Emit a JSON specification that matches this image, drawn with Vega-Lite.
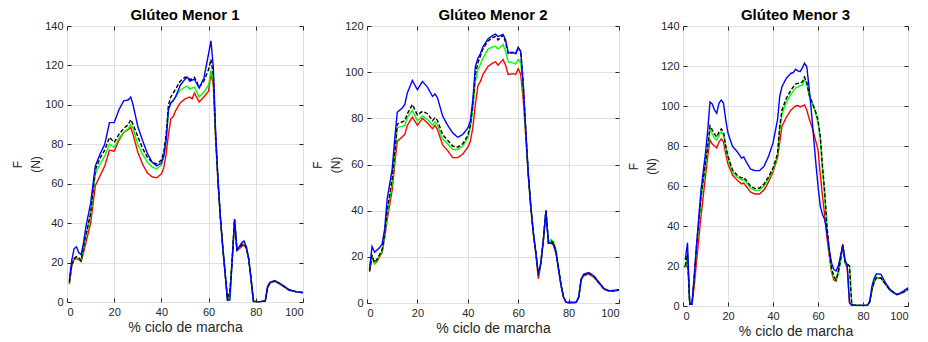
{
  "$schema": "https://vega.github.io/schema/vega-lite/v6.json",
  "background": "white",
  "padding": {"left": 11, "top": 7, "right": 5, "bottom": 5},
  "spacing": 64,
  "bounds": "flush",
  "config": {
    "font": "Liberation Sans",
    "view": {"stroke": "#555555", "strokeWidth": 1},
    "axis": {
      "domain": false,
      "grid": true,
      "gridColor": "#dfdfdf",
      "gridWidth": 1,
      "tickColor": "#262626",
      "tickSize": -4,
      "labelFont": "Liberation Sans",
      "labelFontSize": 11,
      "labelColor": "#262626",
      "labelPadding": 8,
      "titleFont": "Liberation Sans",
      "titleFontWeight": "normal",
      "titleFontSize": 14,
      "titleColor": "#262626"
    },
    "axisY": {"titleLineHeight": 18, "titleFontSize": 12, "titlePadding": 2},
    "axisX": {"titlePadding": 3},
    "title": {"fontSize": 15, "fontWeight": "bold", "color": "#000000", "offset": -3, "font": "Liberation Sans"}
  },
  "datasets": {
    "p1": [
      {"x":1,"b":11,"k":10,"g":10,"r":9},
      {"x":2,"b":21,"k":19,"g":19,"r":18},
      {"x":3,"b":27,"k":22,"g":22,"r":21.5},
      {"x":4,"b":28,"k":23,"g":22.5,"r":22},
      {"x":5,"b":25,"k":22.5,"g":22,"r":21.5},
      {"x":6,"b":24,"k":21,"g":21,"r":20.5},
      {"x":7,"b":30,"k":28,"g":27,"r":25},
      {"x":8,"b":38,"k":34,"g":33,"r":30},
      {"x":10,"b":50,"k":45,"g":44,"r":40},
      {"x":12,"b":69,"k":67,"g":65,"r":59},
      {"x":14,"b":75,"k":73,"g":70,"r":64},
      {"x":16,"b":80,"k":77,"g":74,"r":69},
      {"x":18,"b":91,"k":83.5,"g":80,"r":77},
      {"x":20,"b":91,"k":81,"g":78.5,"r":76.5},
      {"x":22,"b":97.5,"k":85,"g":83,"r":82},
      {"x":24,"b":102,"k":88,"g":86,"r":86},
      {"x":26,"b":102.5,"k":90,"g":88,"r":87.5},
      {"x":27,"b":104,"k":92.5,"g":90,"r":88.5},
      {"x":28,"b":100,"k":90,"g":88,"r":85},
      {"x":30,"b":89,"k":84,"g":80,"r":76},
      {"x":32,"b":82,"k":78,"g":75,"r":70},
      {"x":34,"b":75.5,"k":73.5,"g":71,"r":65.5},
      {"x":36,"b":71,"k":71,"g":68.5,"r":63.5},
      {"x":38,"b":69,"k":70,"g":67.5,"r":63},
      {"x":40,"b":70.5,"k":72,"g":69.5,"r":65},
      {"x":41,"b":74,"k":76,"g":74,"r":68},
      {"x":42,"b":82,"k":85,"g":82,"r":75},
      {"x":43,"b":97.5,"k":100,"g":98,"r":85},
      {"x":44,"b":101,"k":104,"g":101,"r":93},
      {"x":45,"b":102,"k":106,"g":102.5,"r":94},
      {"x":46,"b":104,"k":108,"g":104,"r":97},
      {"x":48,"b":110,"k":112,"g":107.5,"r":101},
      {"x":50,"b":113,"k":114,"g":109,"r":103},
      {"x":51,"b":114,"k":114,"g":109.5,"r":103.5},
      {"x":52,"b":112,"k":113,"g":108,"r":104},
      {"x":53,"b":112.5,"k":113,"g":108.5,"r":103},
      {"x":54,"b":113,"k":114,"g":109,"r":106},
      {"x":56,"b":108.5,"k":109,"g":104,"r":101.5},
      {"x":58,"b":113.5,"k":112,"g":106.5,"r":104},
      {"x":60,"b":126,"k":118,"g":110,"r":107},
      {"x":61,"b":132.5,"k":123,"g":117.5,"r":116},
      {"x":62,"b":119,"k":115,"g":112,"r":110},
      {"x":63,"b":85.6,"k":84,"g":83,"r":82},
      {"x":64,"b":62,"k":61,"g":61,"r":60},
      {"x":65,"b":43,"k":43,"g":43,"r":42},
      {"x":66,"b":28,"k":28,"g":28,"r":27},
      {"x":67,"b":14.7,"k":15,"g":15,"r":14},
      {"x":68,"b":1,"k":2,"g":1,"r":0.5},
      {"x":69,"b":1,"k":5,"g":4,"r":4},
      {"x":70,"b":21,"k":22,"g":22,"r":21},
      {"x":71,"b":42,"k":42,"g":42,"r":41},
      {"x":72,"b":26.5,"k":26.5,"g":26.5,"r":26},
      {"x":73,"b":28,"k":27.5,"g":27.5,"r":27},
      {"x":74,"b":30,"k":29,"g":29,"r":28},
      {"x":75,"b":31,"k":29.5,"g":29.5,"r":29},
      {"x":76,"b":28,"k":27.5,"g":27.5,"r":27},
      {"x":77,"b":22,"k":22,"g":22,"r":21.5},
      {"x":78,"b":11,"k":12,"g":12,"r":11.5},
      {"x":79,"b":0.3,"k":0.5,"g":0.5,"r":0.3},
      {"x":80,"b":0.2,"k":0.2,"g":0.2,"r":0.2},
      {"x":82,"b":0.2,"k":0.2,"g":0.2,"r":0.2},
      {"x":84,"b":0.5,"k":0.5,"g":0.5,"r":0.5},
      {"x":85,"b":8,"k":7.5,"g":7.5,"r":7},
      {"x":86,"b":10,"k":9.8,"g":9.8,"r":9.5},
      {"x":88,"b":10.8,"k":10.7,"g":10.7,"r":10.5},
      {"x":90,"b":9.6,"k":9.5,"g":9.5,"r":9.2},
      {"x":92,"b":8,"k":7.9,"g":7.9,"r":7.6},
      {"x":94,"b":6.3,"k":6.2,"g":6.2,"r":6},
      {"x":96,"b":5.6,"k":5.5,"g":5.5,"r":5.4},
      {"x":98,"b":5,"k":5,"g":5,"r":4.9},
      {"x":100,"b":4.9,"k":4.8,"g":4.8,"r":4.7}
    ],
    "p2": [
      {"x":1,"b":14.7,"k":14,"g":14,"r":13.5},
      {"x":2,"b":24.5,"k":20.5,"g":20,"r":20},
      {"x":3,"b":22,"k":17.5,"g":17,"r":17},
      {"x":4,"b":23,"k":19,"g":18.5,"r":18},
      {"x":5,"b":24,"k":21,"g":20.5,"r":20},
      {"x":6,"b":25.5,"k":23,"g":22.5,"r":22},
      {"x":7,"b":32,"k":30,"g":29,"r":28},
      {"x":8,"b":45,"k":40,"g":38,"r":36},
      {"x":10,"b":58,"k":54,"g":52,"r":49},
      {"x":11,"b":71,"k":65,"g":63,"r":60},
      {"x":12,"b":82.6,"k":77.5,"g":76,"r":70},
      {"x":14,"b":84.5,"k":78.5,"g":76.5,"r":72},
      {"x":15,"b":86,"k":79,"g":77,"r":73},
      {"x":16,"b":91,"k":82,"g":80.5,"r":77},
      {"x":18,"b":96.4,"k":86,"g":83.5,"r":80.5},
      {"x":20,"b":92.4,"k":81.5,"g":79,"r":77},
      {"x":22,"b":96,"k":83,"g":81,"r":80},
      {"x":24,"b":93.5,"k":82,"g":79.5,"r":78},
      {"x":26,"b":89.5,"k":79,"g":77,"r":75.5},
      {"x":27,"b":90.6,"k":80.3,"g":78.5,"r":77},
      {"x":28,"b":88.8,"k":79,"g":77,"r":75},
      {"x":30,"b":81,"k":73,"g":71,"r":68.5},
      {"x":32,"b":77,"k":70.5,"g":69,"r":66},
      {"x":34,"b":73.7,"k":68,"g":66.5,"r":63},
      {"x":36,"b":71.8,"k":67.5,"g":66.5,"r":63},
      {"x":38,"b":73,"k":69,"g":68,"r":64.5},
      {"x":40,"b":75.8,"k":72.5,"g":71.5,"r":67.5},
      {"x":41,"b":78.7,"k":77,"g":76,"r":70},
      {"x":42,"b":88,"k":86,"g":84,"r":76},
      {"x":43,"b":102.4,"k":99,"g":96,"r":86},
      {"x":44,"b":106,"k":104,"g":101,"r":94},
      {"x":45,"b":108,"k":107,"g":103.5,"r":96},
      {"x":46,"b":111,"k":110,"g":106,"r":99},
      {"x":48,"b":114.4,"k":113.5,"g":110,"r":102.5},
      {"x":50,"b":116,"k":115,"g":111,"r":104},
      {"x":51,"b":116.5,"k":115.5,"g":111.2,"r":104.5},
      {"x":52,"b":115.4,"k":114,"g":110,"r":103},
      {"x":54,"b":116.4,"k":116,"g":112,"r":105.5},
      {"x":55,"b":114,"k":113,"g":109,"r":103},
      {"x":56,"b":108.5,"k":108,"g":104.5,"r":99},
      {"x":58,"b":108.5,"k":108.5,"g":104,"r":99.3},
      {"x":59,"b":108,"k":108,"g":103.5,"r":99},
      {"x":60,"b":110.8,"k":110.5,"g":105.5,"r":101.5},
      {"x":61,"b":109,"k":109,"g":104,"r":99},
      {"x":62,"b":95,"k":95,"g":92,"r":88},
      {"x":63,"b":75,"k":75,"g":74,"r":72},
      {"x":64,"b":56,"k":56,"g":56,"r":55},
      {"x":65,"b":42,"k":42,"g":42,"r":41},
      {"x":66,"b":30.5,"k":30.5,"g":30.5,"r":30},
      {"x":67,"b":22,"k":22,"g":22,"r":21},
      {"x":68,"b":12.5,"k":12,"g":12,"r":10.5},
      {"x":69,"b":17.5,"k":17.5,"g":17.5,"r":17},
      {"x":70,"b":27.6,"k":27.6,"g":27.6,"r":27},
      {"x":71,"b":40,"k":40,"g":40,"r":39.5},
      {"x":72,"b":26,"k":26,"g":26.5,"r":26},
      {"x":73,"b":26,"k":27,"g":27.5,"r":26},
      {"x":74,"b":25.5,"k":26,"g":26.5,"r":25},
      {"x":75,"b":22,"k":22.5,"g":23,"r":21.5},
      {"x":76,"b":14.7,"k":15,"g":15.5,"r":14.5},
      {"x":77,"b":7.5,"k":8,"g":8,"r":7.5},
      {"x":78,"b":2.5,"k":2.5,"g":2.5,"r":2.5},
      {"x":79,"b":0.3,"k":0.3,"g":0.3,"r":0.3},
      {"x":80,"b":0.2,"k":0.2,"g":0.2,"r":0.2},
      {"x":82,"b":0.2,"k":0.2,"g":0.2,"r":0.2},
      {"x":83,"b":0.3,"k":0.3,"g":0.3,"r":0.3},
      {"x":84,"b":2.5,"k":2.5,"g":2.5,"r":2.5},
      {"x":85,"b":10.4,"k":10.2,"g":10.2,"r":10},
      {"x":86,"b":12.5,"k":12.2,"g":12.2,"r":11.8},
      {"x":88,"b":13.2,"k":12.9,"g":12.9,"r":12.5},
      {"x":90,"b":11.8,"k":11.6,"g":11.6,"r":11.2},
      {"x":92,"b":9,"k":8.9,"g":8.9,"r":8.6},
      {"x":94,"b":6.3,"k":6.2,"g":6.2,"r":6},
      {"x":96,"b":5.3,"k":5.2,"g":5.2,"r":5.1},
      {"x":98,"b":5.5,"k":5.3,"g":5.3,"r":5.2},
      {"x":100,"b":5.8,"k":5.6,"g":5.6,"r":5.5}
    ],
    "p3": [
      {"x":1,"b":23,"k":20,"g":19,"r":19},
      {"x":2,"b":31.6,"k":26,"g":25,"r":24},
      {"x":3,"b":0.8,"k":1,"g":1,"r":1},
      {"x":4,"b":0.8,"k":1,"g":1,"r":1},
      {"x":5,"b":15,"k":15,"g":14,"r":10},
      {"x":6,"b":30,"k":30,"g":29,"r":22},
      {"x":8,"b":58,"k":55,"g":53,"r":45},
      {"x":10,"b":76.5,"k":72,"g":70,"r":65},
      {"x":11,"b":88,"k":80,"g":79,"r":75},
      {"x":12,"b":102,"k":90,"g":88.5,"r":83},
      {"x":13,"b":101,"k":88,"g":86,"r":81},
      {"x":14,"b":98,"k":86,"g":84,"r":80},
      {"x":15,"b":96.4,"k":84.5,"g":83,"r":79},
      {"x":16,"b":101.4,"k":87,"g":85.5,"r":82},
      {"x":17,"b":103,"k":88.5,"g":87,"r":83.5},
      {"x":18,"b":101.4,"k":87,"g":85.5,"r":82},
      {"x":19,"b":93,"k":80,"g":79,"r":76},
      {"x":20,"b":86.5,"k":75,"g":73.5,"r":71},
      {"x":22,"b":79.8,"k":68,"g":67,"r":65.5},
      {"x":24,"b":77.3,"k":65.5,"g":64.5,"r":63},
      {"x":26,"b":74,"k":64,"g":63,"r":61},
      {"x":27,"b":74.5,"k":64.3,"g":63.3,"r":61.5},
      {"x":28,"b":72.3,"k":63,"g":62,"r":60},
      {"x":30,"b":68.5,"k":60,"g":59,"r":57},
      {"x":32,"b":67.7,"k":58.7,"g":57.7,"r":56},
      {"x":34,"b":67.7,"k":59,"g":58,"r":56},
      {"x":36,"b":69.8,"k":61,"g":60,"r":58},
      {"x":38,"b":74.8,"k":64.5,"g":63.5,"r":62},
      {"x":40,"b":81.5,"k":69,"g":68,"r":67},
      {"x":42,"b":93,"k":76,"g":75,"r":74},
      {"x":43,"b":104.8,"k":90,"g":88,"r":82},
      {"x":44,"b":109.7,"k":98,"g":96,"r":90},
      {"x":46,"b":114,"k":104,"g":102,"r":94.5},
      {"x":48,"b":116.4,"k":108,"g":106,"r":98},
      {"x":49,"b":116.7,"k":109.5,"g":107.5,"r":99},
      {"x":50,"b":118.4,"k":111,"g":109,"r":100},
      {"x":51,"b":117.6,"k":111.3,"g":109.5,"r":100.3},
      {"x":52,"b":117.2,"k":111.5,"g":110,"r":99.5},
      {"x":53,"b":118.9,"k":112,"g":110.5,"r":100},
      {"x":54,"b":121.4,"k":114.5,"g":113,"r":100.5},
      {"x":55,"b":119.7,"k":112,"g":111,"r":98},
      {"x":56,"b":109.7,"k":106,"g":105.5,"r":94},
      {"x":57,"b":98,"k":103,"g":102.5,"r":90.5},
      {"x":58,"b":85,"k":100,"g":99.5,"r":87},
      {"x":59,"b":72,"k":97,"g":96,"r":82.5},
      {"x":60,"b":60,"k":93,"g":91.5,"r":78},
      {"x":61,"b":50,"k":85,"g":84,"r":66},
      {"x":62,"b":45.7,"k":70,"g":68,"r":55},
      {"x":63,"b":43.2,"k":57,"g":55,"r":45},
      {"x":64,"b":36.6,"k":40,"g":38,"r":34},
      {"x":65,"b":28.3,"k":28,"g":27,"r":25},
      {"x":66,"b":21.6,"k":19,"g":18,"r":17},
      {"x":67,"b":18.3,"k":15,"g":14,"r":13},
      {"x":68,"b":17.5,"k":13,"g":12.5,"r":12.5},
      {"x":69,"b":20,"k":17,"g":16,"r":17},
      {"x":70,"b":25,"k":23,"g":22,"r":24},
      {"x":71,"b":30.4,"k":30.5,"g":30,"r":31},
      {"x":72,"b":23.3,"k":22,"g":21.5,"r":22},
      {"x":73,"b":20,"k":21,"g":21,"r":19},
      {"x":74,"b":1.7,"k":20,"g":20,"r":1.5},
      {"x":75,"b":0.3,"k":0.5,"g":0.5,"r":0.3},
      {"x":78,"b":0.3,"k":0.3,"g":0.3,"r":0.3},
      {"x":82,"b":0.3,"k":0.3,"g":0.3,"r":0.3},
      {"x":83,"b":2.5,"k":2,"g":2,"r":2},
      {"x":84,"b":10,"k":8.5,"g":8.5,"r":8},
      {"x":85,"b":14,"k":12.5,"g":12.5,"r":12},
      {"x":86,"b":16.1,"k":14.3,"g":14.3,"r":14},
      {"x":88,"b":15.8,"k":14,"g":14,"r":13.8},
      {"x":90,"b":11.6,"k":11,"g":11,"r":10.8},
      {"x":92,"b":8.3,"k":8,"g":8,"r":7.8},
      {"x":94,"b":6.6,"k":6.4,"g":6.4,"r":6.3},
      {"x":95,"b":5.8,"k":5.7,"g":5.7,"r":5.6},
      {"x":96,"b":6.2,"k":6,"g":6,"r":5.9},
      {"x":98,"b":7.5,"k":7,"g":7,"r":6.8},
      {"x":100,"b":9.1,"k":8.5,"g":8.5,"r":8.2}
    ]
  },
  "hconcat": [
    {
      "width": 236, "height": 276,
      "title": "Glúteo Menor 1",
      "data": {"name": "p1"},
      "transform": [{"fold": ["r", "g", "k", "b"], "as": ["s", "v"]}],
      "layer": [
        {
          "mark": {"type": "line", "strokeWidth": 1.4},
          "encoding": {
            "x": {"field": "x", "type": "quantitative", "scale": {"domain": [0, 100], "nice": false}, "axis": {"title": "% ciclo de marcha", "values": [0, 20, 40, 60, 80, 100]}},
            "y": {"field": "v", "type": "quantitative", "scale": {"domain": [0, 140], "nice": false}, "axis": {"title": ["F", "(N)"], "values": [0, 20, 40, 60, 80, 100, 120, 140]}},
            "color": {"field": "s", "type": "nominal", "scale": {"domain": ["b", "k", "g", "r"], "range": ["#0000ff", "#000000", "#00ff00", "#ff0000"]}, "legend": null},
            "strokeDash": {"field": "s", "type": "nominal", "scale": {"domain": ["b", "k", "g", "r"], "range": [[1, 0], [4, 2], [1, 0], [1, 0]]}, "legend": null}
          }
        },
        {
          "mark": {"type": "line", "opacity": 0},
          "encoding": {
            "x": {"field": "x", "type": "quantitative", "axis": {"orient": "top", "labels": false, "title": null, "grid": false, "values": [0, 20, 40, 60, 80, 100]}},
            "y": {"field": "v", "type": "quantitative", "axis": {"orient": "right", "labels": false, "title": null, "grid": false, "values": [0, 20, 40, 60, 80, 100, 120, 140]}},
            "detail": {"field": "s"}
          }
        }
      ],
      "resolve": {"axis": {"x": "independent", "y": "independent"}}
    },
    {
      "width": 252, "height": 277,
      "title": "Glúteo Menor 2",
      "data": {"name": "p2"},
      "transform": [{"fold": ["r", "g", "k", "b"], "as": ["s", "v"]}],
      "layer": [
        {
          "mark": {"type": "line", "strokeWidth": 1.4},
          "encoding": {
            "x": {"field": "x", "type": "quantitative", "scale": {"domain": [0, 100], "nice": false}, "axis": {"title": "% ciclo de marcha", "values": [0, 20, 40, 60, 80, 100]}},
            "y": {"field": "v", "type": "quantitative", "scale": {"domain": [0, 120], "nice": false}, "axis": {"title": ["F", "(N)"], "values": [0, 20, 40, 60, 80, 100, 120]}},
            "color": {"field": "s", "type": "nominal", "scale": {"domain": ["b", "k", "g", "r"], "range": ["#0000ff", "#000000", "#00ff00", "#ff0000"]}, "legend": null},
            "strokeDash": {"field": "s", "type": "nominal", "scale": {"domain": ["b", "k", "g", "r"], "range": [[1, 0], [4, 2], [1, 0], [1, 0]]}, "legend": null}
          }
        },
        {
          "mark": {"type": "line", "opacity": 0},
          "encoding": {
            "x": {"field": "x", "type": "quantitative", "axis": {"orient": "top", "labels": false, "title": null, "grid": false, "values": [0, 20, 40, 60, 80, 100]}},
            "y": {"field": "v", "type": "quantitative", "axis": {"orient": "right", "labels": false, "title": null, "grid": false, "values": [0, 20, 40, 60, 80, 100, 120]}},
            "detail": {"field": "s"}
          }
        }
      ],
      "resolve": {"axis": {"x": "independent", "y": "independent"}}
    },
    {
      "width": 225, "height": 280,
      "title": "Glúteo Menor 3",
      "data": {"name": "p3"},
      "transform": [{"fold": ["r", "g", "k", "b"], "as": ["s", "v"]}],
      "layer": [
        {
          "mark": {"type": "line", "strokeWidth": 1.4},
          "encoding": {
            "x": {"field": "x", "type": "quantitative", "scale": {"domain": [0, 100], "nice": false}, "axis": {"title": "% ciclo de marcha", "values": [0, 20, 40, 60, 80, 100]}},
            "y": {"field": "v", "type": "quantitative", "scale": {"domain": [0, 140], "nice": false}, "axis": {"title": ["F", "(N)"], "values": [0, 20, 40, 60, 80, 100, 120, 140]}},
            "color": {"field": "s", "type": "nominal", "scale": {"domain": ["b", "k", "g", "r"], "range": ["#0000ff", "#000000", "#00ff00", "#ff0000"]}, "legend": null},
            "strokeDash": {"field": "s", "type": "nominal", "scale": {"domain": ["b", "k", "g", "r"], "range": [[1, 0], [4, 2], [1, 0], [1, 0]]}, "legend": null}
          }
        },
        {
          "mark": {"type": "line", "opacity": 0},
          "encoding": {
            "x": {"field": "x", "type": "quantitative", "axis": {"orient": "top", "labels": false, "title": null, "grid": false, "values": [0, 20, 40, 60, 80, 100]}},
            "y": {"field": "v", "type": "quantitative", "axis": {"orient": "right", "labels": false, "title": null, "grid": false, "values": [0, 20, 40, 60, 80, 100, 120, 140]}},
            "detail": {"field": "s"}
          }
        }
      ],
      "resolve": {"axis": {"x": "independent", "y": "independent"}}
    }
  ]
}
